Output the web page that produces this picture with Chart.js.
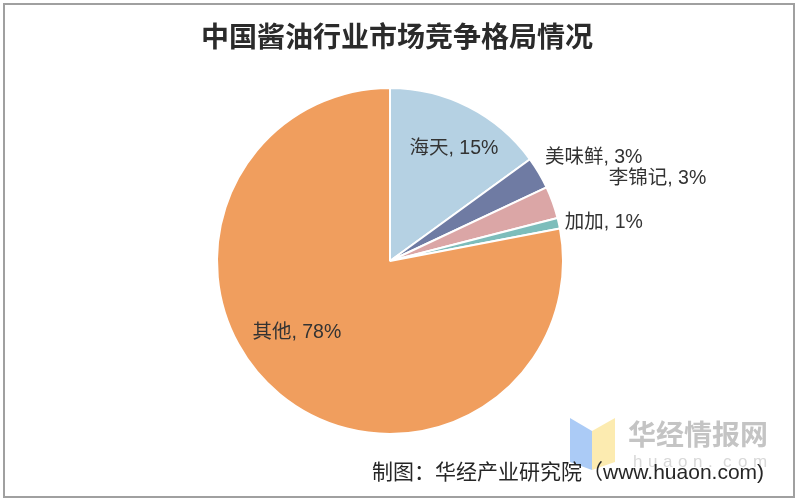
<!DOCTYPE html>
<html>
<head>
<meta charset="utf-8">
<script src="https://cdn.jsdelivr.net/npm/chart.js@4/dist/chart.umd.min.js"></script>
<style>
  html, body { margin: 0; padding: 0; background: #fff; }
  #wrap { width: 800px; height: 501px; }
</style>
</head>
<body>
<div id="wrap"><canvas id="chart"></canvas></div>
<script>
// 数据
const categories = ['海天', '美味鲜', '李锦记', '加加', '其他'];
const shares = [15, 3, 3, 1, 78];
const colors = ['#B5D1E3', '#6F7BA3', '#DBA6A6', '#7DBDBB', '#F09E5E'];

const titleText = '中国酱油行业市场竞争格局情况';
const sourceText = '制图：华经产业研究院（www.huaon.com)';

const CJK = '"Liberation Sans", "Noto Sans CJK SC", sans-serif';

// label placement: [radius factor, dx, dy, align]
const labelPos = [
    [0.75, 5, 3, 'center'],
    [1.0, 6, -15, 'left'],
    [1.0, 56, -24, 'left'],
    [1.0, 6, -1, 'left'],
    [0.7, -16, -22, 'center']
];

const decor = {
    id: 'decor',
    beforeDraw(c) {
        const ctx = c.ctx;
        ctx.save();
        ctx.fillStyle = '#fff';
        ctx.fillRect(0, 0, c.width, c.height);
        ctx.restore();
    },
    afterDraw(c) {
        const ctx = c.ctx;
        ctx.save();

        // frame
        ctx.strokeStyle = '#a0a0a0';
        ctx.lineWidth = 2;
        ctx.strokeRect(4, 4, 790, 493);

        // title
        ctx.fillStyle = '#2b2b2b';
        ctx.font = 'bold 28px "Noto Sans CJK SC", sans-serif';
        ctx.textAlign = 'center';
        ctx.textBaseline = 'middle';
        ctx.fillText(titleText, 397, 36);

        // slice labels
        const meta = c.getDatasetMeta(0);
        ctx.font = '19.5px ' + CJK;
        ctx.fillStyle = '#333';
        ctx.textBaseline = 'middle';
        meta.data.forEach((arc, i) => {
            const p = labelPos[i];
            const a = (arc.startAngle + arc.endAngle) / 2;
            const r = arc.outerRadius * p[0];
            const x = arc.x + Math.cos(a) * r + p[1];
            const y = arc.y + Math.sin(a) * r + p[2];
            ctx.textAlign = p[3];
            ctx.fillText(categories[i] + ', ' + shares[i] + '%', x, y);
        });

        // watermark logo
        ctx.globalAlpha = 0.85;
        ctx.fillStyle = '#9CC2F4';
        ctx.beginPath();
        ctx.moveTo(570, 418);
        ctx.lineTo(592, 431);
        ctx.lineTo(592, 470);
        ctx.lineTo(570, 462);
        ctx.closePath();
        ctx.fill();
        ctx.fillStyle = '#FBE8A2';
        ctx.beginPath();
        ctx.moveTo(592, 431);
        ctx.lineTo(615, 418);
        ctx.lineTo(615, 462);
        ctx.lineTo(592, 470);
        ctx.closePath();
        ctx.fill();
        ctx.globalAlpha = 1;

        ctx.fillStyle = '#c4c4c4';
        ctx.font = 'bold 28px "Noto Sans CJK SC", sans-serif';
        ctx.textAlign = 'left';
        ctx.fillText('华经情报网', 628, 434);
        ctx.fillStyle = '#d8d8d8';
        ctx.font = '17px "Liberation Sans", sans-serif';
        const wm = 'huaon.com';
        for (let k = 0; k < wm.length; k++) {
            ctx.fillText(wm[k], 633 + k * 15, 462);
        }

        // source
        ctx.fillStyle = '#262626';
        ctx.font = '21px ' + CJK;
        ctx.textAlign = 'left';
        ctx.fillText(sourceText, 372, 473);

        ctx.restore();
    }
};

new Chart(document.getElementById('chart'), {
    type: 'pie',
    data: {
        labels: categories,
        datasets: [{
            data: shares,
            backgroundColor: colors,
            borderColor: '#ffffff',
            borderWidth: 2
        }]
    },
    options: {
        responsive: true,
        maintainAspectRatio: false,
        animation: false,
        layout: { padding: { top: 87, bottom: 66, left: 0, right: 20 } },
        plugins: {
            legend: { display: false },
            title: { display: false },
            tooltip: { enabled: false }
        }
    },
    plugins: [decor]
});
</script>
</body>
</html>
